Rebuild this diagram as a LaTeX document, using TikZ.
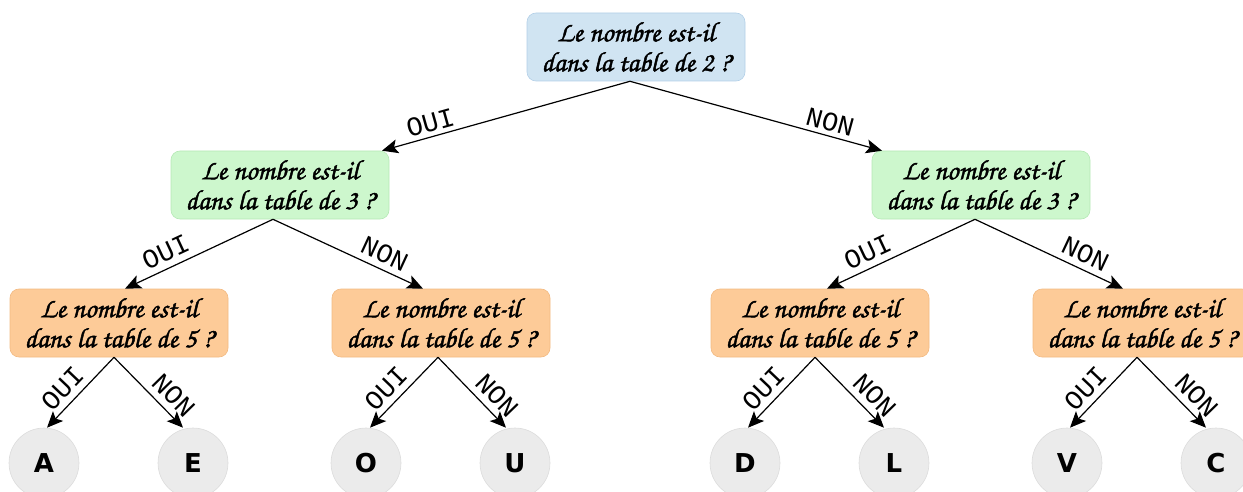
\documentclass[tikz,border=0pt]{standalone}
\usepackage{fontspec}
\newfontfamily\chorus[FakeBold=1.6]{texgyrechorus-mediumitalic.otf}
\newfontfamily\monofont{Liberation Mono}
\newfontfamily\leaffont{DejaVu Sans}
\usetikzlibrary{arrows.meta}
\definecolor{qblue}{HTML}{D0E4F2}
\definecolor{qblueb}{HTML}{B3D0E8}
\definecolor{qgreen}{HTML}{CDF7CD}
\definecolor{qgreenb}{HTML}{B5E8B5}
\definecolor{qorange}{HTML}{FDCB98}
\definecolor{qorangeb}{HTML}{F2BA82}
\definecolor{leafgray}{HTML}{EBEBEB}
\definecolor{leafb}{HTML}{DCDCDC}
\tikzset{
  qbox/.style={rounded corners=9pt, minimum width=218pt, minimum height=68pt,
    inner sep=0pt, align=center, line width=0.6pt, font=\chorus\fontsize{28}{30}\selectfont},
  qroot/.style={qbox, fill=qblue, draw=qblueb},
  qmid/.style={qbox, fill=qgreen, draw=qgreenb},
  qlow/.style={qbox, fill=qorange, draw=qorangeb},
  leaf/.style={circle, minimum size=70pt, inner sep=0pt, fill=leafgray, draw=leafb,
    line width=0.6pt, font=\leaffont\bfseries\fontsize{26}{26}\selectfont},
  arr/.style={-{Stealth[length=16pt,width=14pt,inset=3.5pt]}, line width=1.2pt},
  lab/.style={sloped, above, inner sep=4pt, font=\monofont\fontsize{27}{27}\selectfont},
  labb/.style={lab, inner sep=6pt}
}
\begin{document}
\begin{tikzpicture}[x=1pt,y=-1pt]
\useasboundingbox (0,0) rectangle (1243,492);
\clip (0,0) rectangle (1243,492);
% question nodes
\node[qroot] (r) at (636,47) {Le nombre est-il\\dans la table de 2 ?};
\node[qmid] (a) at (280,185) {Le nombre est-il\\dans la table de 3 ?};
\node[qmid] (b) at (981,185) {Le nombre est-il\\dans la table de 3 ?};
\node[qlow] (a1) at (119,323) {Le nombre est-il\\dans la table de 5 ?};
\node[qlow] (a2) at (441,323) {Le nombre est-il\\dans la table de 5 ?};
\node[qlow] (b1) at (820,323) {Le nombre est-il\\dans la table de 5 ?};
\node[qlow] (b2) at (1142,323) {Le nombre est-il\\dans la table de 5 ?};
% leaves
\node[leaf] (lA) at (44,463) {A};
\node[leaf] (lE) at (193,463) {E};
\node[leaf] (lO) at (366,463) {O};
\node[leaf] (lU) at (515,463) {U};
\node[leaf] (lD) at (745,463) {D};
\node[leaf] (lL) at (894,463) {L};
\node[leaf] (lV) at (1067,463) {V};
\node[leaf] (lC) at (1216,463) {C};
% level 1
\draw[arr] ([xshift=-6pt]r.south) -- node[lab,pos=0.79]{OUI} ([xshift=102pt]a.north);
\draw[arr] ([xshift=-6pt]r.south) -- node[lab,pos=0.78]{NON} ([xshift=-99pt]b.north);
% level 2
\draw[arr] ([xshift=-7pt]a.south) -- node[labb,pos=0.68]{OUI} ([xshift=6pt]a1.north);
\draw[arr] ([xshift=-7pt]a.south) -- node[labb,pos=0.70]{NON} ([xshift=-18pt]a2.north);
\draw[arr] ([xshift=-6pt]b.south) -- node[labb,pos=0.68]{OUI} ([xshift=7pt]b1.north);
\draw[arr] ([xshift=-6pt]b.south) -- node[labb,pos=0.70]{NON} ([xshift=-19pt]b2.north);
% level 3
\draw[arr] ([xshift=-5pt]a1.south) -- node[labb,pos=0.60]{OUI} ([xshift=3pt]lA.north);
\draw[arr] ([xshift=-5pt]a1.south) -- node[labb,pos=0.70]{NON} ([xshift=-10pt]lE.north);
\draw[arr] ([xshift=-3pt]a2.south) -- node[labb,pos=0.60]{OUI} ([xshift=4pt]lO.north);
\draw[arr] ([xshift=-3pt]a2.south) -- node[labb,pos=0.70]{NON} ([xshift=-9pt]lU.north);
\draw[arr] ([xshift=-5pt]b1.south) -- node[labb,pos=0.60]{OUI} ([xshift=3pt]lD.north);
\draw[arr] ([xshift=-5pt]b1.south) -- node[labb,pos=0.70]{NON} ([xshift=-10pt]lL.north);
\draw[arr] ([xshift=-5pt]b2.south) -- node[labb,pos=0.60]{OUI} ([xshift=3pt]lV.north);
\draw[arr] ([xshift=-5pt]b2.south) -- node[labb,pos=0.70]{NON} ([xshift=-10pt]lC.north);
\end{tikzpicture}
\end{document}
